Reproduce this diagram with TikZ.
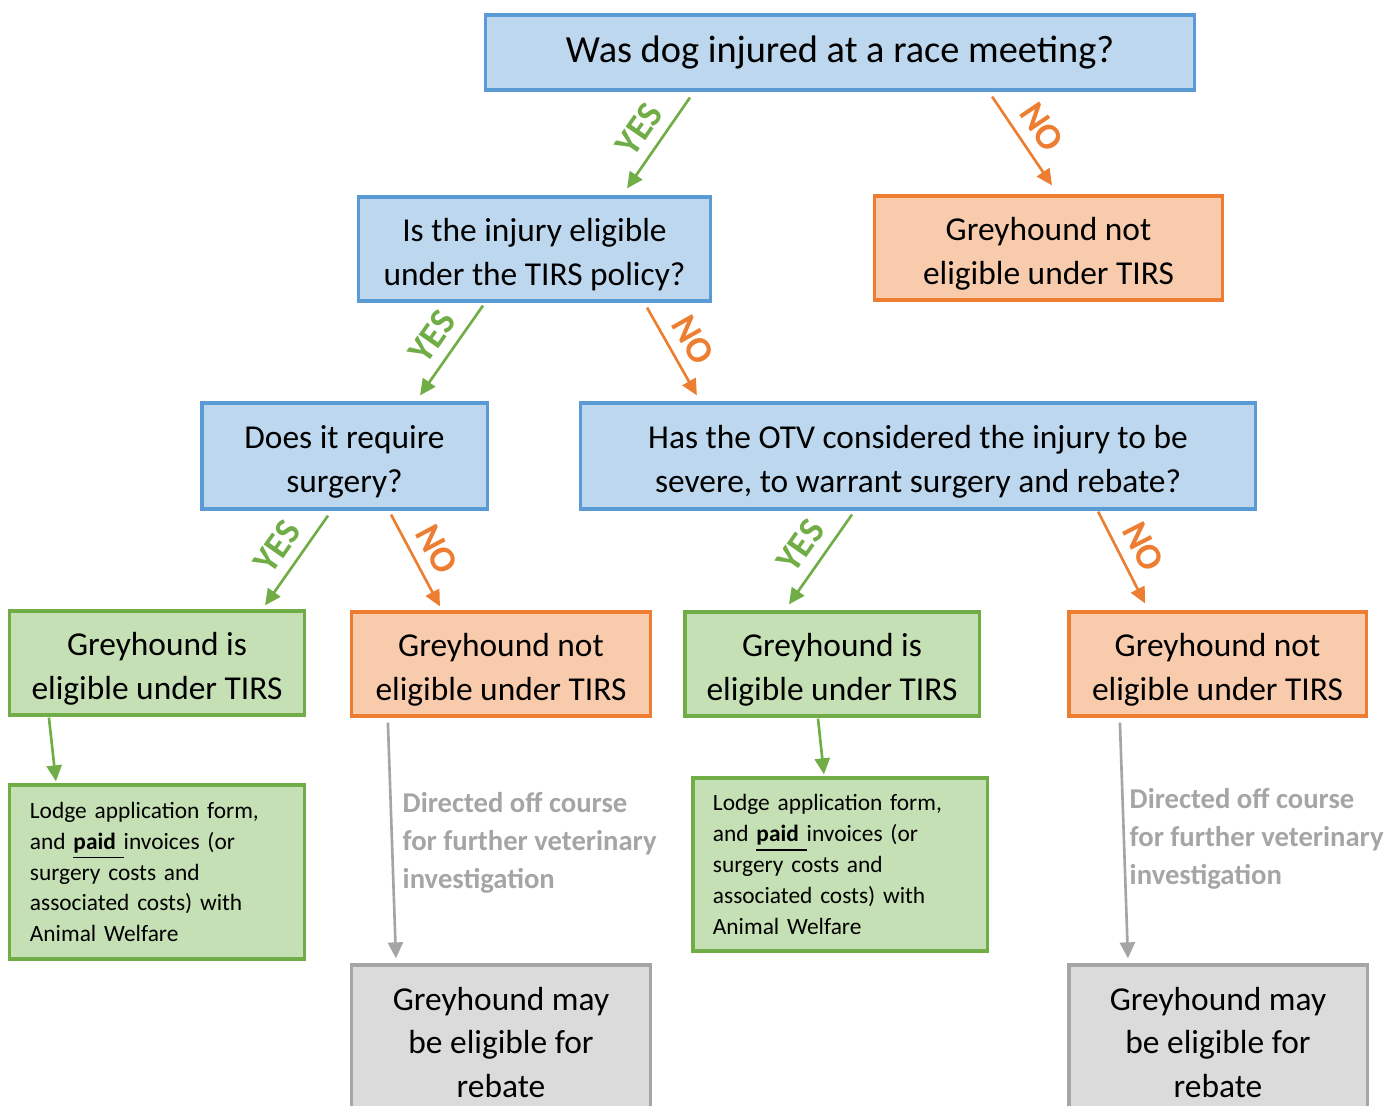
\documentclass[tikz,border=0pt]{standalone}
\usepackage{fontspec}
\setmainfont{Carlito}
\usetikzlibrary{arrows.meta}

\definecolor{askfill}{HTML}{BDD7EE}
\definecolor{askline}{HTML}{5B9BD5}
\definecolor{nofill}{HTML}{F8CBAD}
\definecolor{noline}{HTML}{ED7D31}
\definecolor{yesfill}{HTML}{C5E0B4}
\definecolor{yesline}{HTML}{70AD47}
\definecolor{rebfill}{HTML}{DBDBDB}
\definecolor{rebline}{HTML}{A5A5A5}

\tikzset{
  box/.style={draw, line width=0.9pt, align=center, inner sep=0pt,
    font=\fontsize{9.5}{12.5}\selectfont},
  twoline/.style={execute at begin node={\rule{0pt}{22.3pt}}},
  askbox/.style={box, draw=askline, fill=askfill},
  nobox/.style={box, twoline, draw=noline, fill=nofill},
  yesbox/.style={box, draw=yesline, fill=yesfill},
  rebbox/.style={box, draw=rebline, fill=rebfill},
  lodgebox/.style={yesbox, align=left, text width=2.54cm, inner xsep=2mm,
    font=\fontsize{6.65}{8.8}\selectfont},
  tip/.style={-{Triangle[length=1.6mm,width=1.5mm]}},
  yesarrow/.style={draw=yesline, line width=0.75pt, tip},
  noarrow/.style={draw=noline, line width=0.75pt, tip},
  offarrow/.style={draw=rebline, line width=0.75pt, tip},
  yeslabel/.style={midway, sloped, above, inner sep=3pt, text=yesline,
    font=\bfseries\fontsize{10.5}{10.5}\selectfont},
  nolabel/.style={yeslabel, text=noline},
  offtext/.style={anchor=west, align=left, inner sep=0pt, text=rebline,
    font=\bfseries\fontsize{8.15}{10.8}\selectfont}
}

\begin{document}
\begin{tikzpicture}[x=0.01cm, y=-0.01cm]
  \clip (0,0) rectangle (1399,1106);

  % questions
  \node[askbox, minimum width=7.08cm, minimum height=0.75cm,
    font=\fontsize{10.9}{12.5}\selectfont] (q1) at (840,52.5)
    {Was dog injured at a race meeting?};
  \node[askbox, twoline, minimum width=3.51cm, minimum height=1.04cm] (q2) at (534.5,249)
    {Is the injury eligible\\under the TIRS policy?};
  \node[askbox, twoline, minimum width=2.85cm, minimum height=1.06cm] (q3) at (344.5,456)
    {Does it require\\surgery?};
  \node[askbox, twoline, minimum width=6.74cm, minimum height=1.06cm] (q4) at (918,456)
    {Has the OTV considered the injury to be\\severe, to warrant surgery and rebate?};

  % outcomes
  \node[nobox, minimum width=3.47cm, minimum height=1.04cm] (n1) at (1048.5,248)
    {Greyhound not\\eligible under TIRS};
  \node[yesbox, twoline, minimum width=2.94cm, minimum height=1.04cm] (y1) at (157,663)
    {Greyhound is\\eligible under TIRS};
  \node[nobox, minimum width=2.98cm, minimum height=1.04cm] (n2) at (501,664)
    {Greyhound not\\eligible under TIRS};
  \node[yesbox, twoline, minimum width=2.94cm, minimum height=1.04cm] (y2) at (832,664)
    {Greyhound is\\eligible under TIRS};
  \node[nobox, minimum width=2.97cm, minimum height=1.04cm] (n3) at (1217.5,664)
    {Greyhound not\\eligible under TIRS};

  \node[lodgebox, minimum width=2.94cm, minimum height=1.74cm] (l1) at (157,872)
    {Lodge application form,\\and \underline{\textbf{paid}\ }invoices (or\\surgery costs and\\associated costs) with\\Animal Welfare};
  \node[lodgebox, minimum width=2.94cm, minimum height=1.73cm] (l2) at (840,864.5)
    {Lodge application form,\\and \underline{\textbf{paid}\ }invoices (or\\surgery costs and\\associated costs) with\\Animal Welfare};

  \node[rebbox, minimum width=2.98cm, minimum height=1.55cm] (r1) at (501,1042.5)
    {Greyhound may\\be eligible for\\rebate};
  \node[rebbox, minimum width=2.98cm, minimum height=1.55cm] (r2) at (1218,1042.5)
    {Greyhound may\\be eligible for\\rebate};

  \node[offtext] (d1) at (402,842.5)
    {Directed off course\\for further veterinary\\investigation};
  \node[offtext] (d2) at (1129,839)
    {Directed off course\\for further veterinary\\investigation};

  % yes / no connectors
  \draw[yesarrow] ([xshift=-15mm,yshift=-0.6mm]q1.south) -- ([xshift=9.25mm,yshift=0.7mm]q2.north)
    node[yeslabel] {YES};
  \draw[noarrow] ([xshift=15.2mm,yshift=-0.5mm]q1.south) -- ([xshift=0.35mm,yshift=0.9mm]n1.north)
    node[nolabel] {NO};
  \draw[yesarrow] ([xshift=-5.15mm,yshift=-0.3mm]q2.south) -- ([xshift=7.55mm,yshift=0.6mm]q3.north)
    node[yeslabel] {YES};
  \draw[noarrow] ([xshift=11.25mm,yshift=-0.5mm]q2.south) -- ([xshift=-22.1mm,yshift=0.6mm]q4.north)
    node[nolabel] {NO};
  \draw[yesarrow] ([xshift=-1.65mm,yshift=-0.5mm]q3.south) -- ([xshift=10.8mm,yshift=0.4mm]y1.north)
    node[yeslabel] {YES};
  \draw[noarrow] ([xshift=4.65mm,yshift=-0.4mm]q3.south) -- ([xshift=-6.1mm,yshift=0.4mm]n2.north)
    node[nolabel] {NO};
  \draw[yesarrow] ([xshift=-6.6mm,yshift=-0.4mm]q4.south) -- ([xshift=-4.3mm,yshift=0.6mm]y2.north)
    node[yeslabel] {YES};
  \draw[noarrow] ([xshift=18mm,yshift=-0.1mm]q4.south) -- ([xshift=-7.25mm,yshift=0.7mm]n3.north)
    node[nolabel] {NO};

  % next steps
  \draw[yesarrow] ([xshift=-10.8mm,yshift=-0.1mm]y1.south) -- ([xshift=-10.1mm,yshift=0.2mm]l1.north);
  \draw[yesarrow] ([xshift=-1.4mm,yshift=-0.1mm]y2.south) -- ([xshift=-1.6mm,yshift=0.2mm]l2.north);
  \draw[offarrow] ([xshift=-11.3mm,yshift=-0.5mm]n2.south) -- ([xshift=-10.5mm,yshift=0.5mm]r1.north);
  \draw[offarrow] ([xshift=-9.75mm,yshift=-0.5mm]n3.south) -- ([xshift=-9mm,yshift=0.5mm]r2.north);
\end{tikzpicture}
\end{document}
